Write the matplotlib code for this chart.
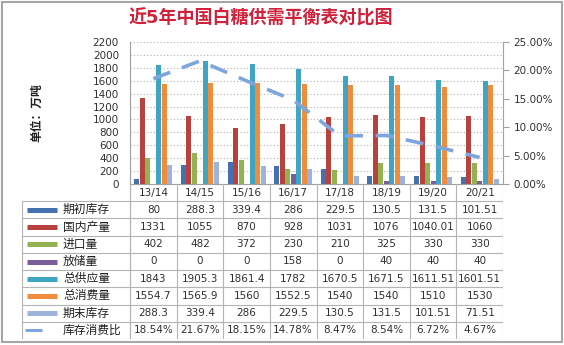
import matplotlib
matplotlib.use("Agg")
import matplotlib.pyplot as plt
import numpy as np
from matplotlib.patches import Rectangle
from matplotlib.lines import Line2D

plt.rcParams['font.family'] = ['DejaVu Sans', 'Noto Sans CJK SC']

seasons = ['13/14', '14/15', '15/16', '16/17', '17/18', '18/19', '19/20', '20/21']
opening_stock = [80, 288.3, 339.4, 286, 229.5, 130.5, 131.5, 101.51]
production = [1331, 1055, 870, 928, 1031, 1076, 1040.01, 1060]
imports = [402, 482, 372, 230, 210, 325, 330, 330]
reserve_release = [0, 0, 0, 158, 0, 40, 40, 40]
total_supply = [1843, 1905.3, 1861.4, 1782, 1670.5, 1671.5, 1611.51, 1601.51]
consumption = [1554.7, 1565.9, 1560, 1552.5, 1540, 1540, 1510, 1530]
ending_stock = [288.3, 339.4, 286, 229.5, 130.5, 131.5, 101.51, 71.51]
stock_ratio = [18.54, 21.67, 18.15, 14.78, 8.47, 8.54, 6.72, 4.67]

series = [
    ('期初库存', opening_stock, '#4472b0'),
    ('国内产量', production, '#b8413e'),
    ('进口量', imports, '#93b252'),
    ('放储量', reserve_release, '#7a5e9c'),
    ('总供应量', total_supply, '#3ea6c2'),
    ('总消费量', consumption, '#f08c3c'),
    ('期末库存', ending_stock, '#9db3d9'),
]
ratio_label = '库存消费比'
ratio_color = '#7ea6dc'

W, H = 564, 345
fig = plt.figure(figsize=(W / 100, H / 100), dpi=100)


def fx(px):
    return px / W


def fy(py):
    return 1 - py / H


# frame round the whole picture
fig.add_artist(Rectangle((fx(2), fy(342)), fx(560), 340 / H, transform=fig.transFigure,
                         fill=False, edgecolor='#a6a6a6', lw=1.5))

fig.text(fx(261), fy(18), '近5年中国白糖供需平衡表对比图', color='#d0203a',
         fontsize=13, fontweight='bold', ha='center', va='center')
fig.text(fx(37), fy(113), '单位：万吨', rotation=90, fontsize=8.5, fontweight='bold',
         ha='center', va='center', color='#202020')

x0, x1, ytop, ybot = 130, 503, 42, 184
ax = fig.add_axes([fx(x0), fy(ybot), fx(x1 - x0), (ybot - ytop) / H])
n = len(seasons)
x = np.arange(n)
bw = 0.118
for k, (name, vals, col) in enumerate(series):
    ax.bar(x + (k - 3) * bw, vals, width=bw * 0.92, color=col, zorder=3)
ax.set_xlim(-0.5, n - 0.5)
ax.set_ylim(0, 2200)
ax.set_yticks(np.arange(0, 2201, 200))
ax.tick_params(axis='y', length=0, pad=8, labelsize=7.5, labelcolor='#303030')
ax.set_xticks([])
ax.grid(axis='y', linestyle=(0, (1, 2)), color='#b0b0b0', lw=0.8, zorder=0)
for s in ['top', 'right']:
    ax.spines[s].set_visible(False)
for s in ['left', 'bottom']:
    ax.spines[s].set_color('#a0a0a0')

ax2 = ax.twinx()
ax2.plot(x, stock_ratio, color=ratio_color, lw=2.6, dashes=(5, 3.5), zorder=4)
ax2.set_ylim(0, 25)
ax2.set_yticks(np.arange(0, 26, 5))
ax2.set_yticklabels([f'{v:.2f}%' for v in range(0, 26, 5)])
ax2.tick_params(axis='y', length=4, color='#a0a0a0', labelsize=7.5, labelcolor='#303030')
for s in ['top', 'left', 'bottom']:
    ax2.spines[s].set_visible(False)
ax2.spines['right'].set_color('#a0a0a0')
ax2.set_xlim(-0.5, n - 0.5)

# data table under the plot, columns lined up with the seasons
tl, tb = 22, 339
cat_w = (x1 - x0) / n
tab = fig.add_axes([fx(tl), fy(tb), fx(x1 - tl), (tb - ybot) / H])
left_edge = -0.5 - (x0 - tl) / cat_w
tab.set_xlim(left_edge, n - 0.5)
nrows = len(series) + 2
tab.set_ylim(nrows, 0)
tab.axis('off')
gc = '#b4b4b4'
tab.add_line(Line2D([-0.5, -0.5], [0, nrows], color=gc, lw=0.8))
for i in range(n + 1):
    tab.add_line(Line2D([i - 0.5, i - 0.5], [0, nrows], color=gc, lw=0.8))
tab.add_line(Line2D([left_edge, left_edge], [1, nrows], color=gc, lw=0.8))
for r in range(1, nrows + 1):
    tab.add_line(Line2D([left_edge, n - 0.5], [r, r], color=gc, lw=0.8))
for i, s in enumerate(seasons):
    tab.text(i, 0.55, s, ha='center', va='center', fontsize=7.5, color='#303030')

sw0 = left_edge + 5 / cat_w
lab_x = left_edge + 41 / cat_w
for r, (name, vals, col) in enumerate(series, start=1):
    tab.add_line(Line2D([sw0, sw0 + 30 / cat_w], [r + 0.5, r + 0.5], color=col, lw=3.6,
                        solid_capstyle='butt'))
    tab.text(lab_x, r + 0.5, name, ha='left', va='center', fontsize=8.5, color='#202020')
    for i, v in enumerate(vals):
        tab.text(i, r + 0.5, f'{v:g}', ha='center', va='center', fontsize=7.5, color='#303030')
r = nrows - 1
tab.add_line(Line2D([sw0 - 2 / cat_w, sw0 + 15 / cat_w], [r + 0.5, r + 0.5], color=ratio_color,
                    lw=2.2, solid_capstyle='butt'))
tab.text(lab_x, r + 0.5, ratio_label, ha='left', va='center', fontsize=8.5, color='#202020')
for i, v in enumerate(stock_ratio):
    tab.text(i, r + 0.5, f'{v:.2f}%', ha='center', va='center', fontsize=7.5, color='#303030')

fig.savefig('out.png', dpi=100)
